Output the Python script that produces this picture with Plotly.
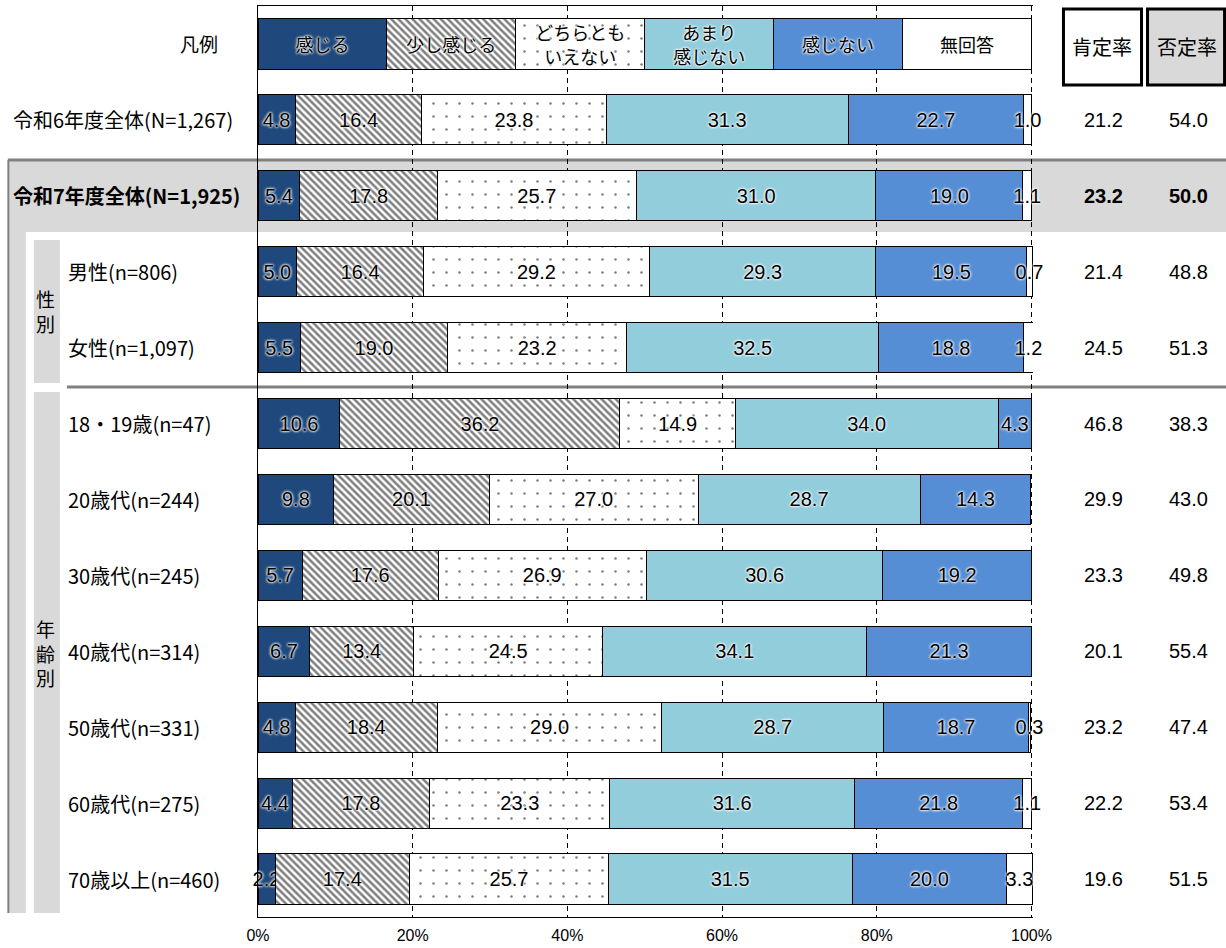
import plotly.graph_objects as go

# ---- data -------------------------------------------------------------
rows = [
    "令和6年度全体(N=1,267)",
    "令和7年度全体(N=1,925)",
    "男性(n=806)",
    "女性(n=1,097)",
    "18・19歳(n=47)",
    "20歳代(n=244)",
    "30歳代(n=245)",
    "40歳代(n=314)",
    "50歳代(n=331)",
    "60歳代(n=275)",
    "70歳以上(n=460)",
]
legend_row = "凡例"

series_names = ["感じる", "少し感じる", "どちらとも<br>いえない", "あまり<br>感じない", "感じない", "無回答"]

kanjiru = [4.8, 5.4, 5.0, 5.5, 10.6, 9.8, 5.7, 6.7, 4.8, 4.4, 2.2]
sukoshi = [16.4, 17.8, 16.4, 19.0, 36.2, 20.1, 17.6, 13.4, 18.4, 17.8, 17.4]
dochira = [23.8, 25.7, 29.2, 23.2, 14.9, 27.0, 26.9, 24.5, 29.0, 23.3, 25.7]
amari = [31.3, 31.0, 29.3, 32.5, 34.0, 28.7, 30.6, 34.1, 28.7, 31.6, 31.5]
kanjinai = [22.7, 19.0, 19.5, 18.8, 4.3, 14.3, 19.2, 21.3, 18.7, 21.8, 20.0]
mukaitou = [1.0, 1.1, 0.7, 1.2, None, None, None, None, 0.3, 1.1, 3.3]

kouteiritsu = [21.2, 23.2, 21.4, 24.5, 46.8, 29.9, 23.3, 20.1, 23.2, 22.2, 19.6]
hiteiritsu = [54.0, 50.0, 48.8, 51.3, 38.3, 43.0, 49.8, 55.4, 47.4, 53.4, 51.5]

legend_share = 100 / 6
x_ticks = [0, 20, 40, 60, 80, 100]
x_ticklabels = ["0%", "20%", "40%", "60%", "80%", "100%"]

# ---- styling ----------------------------------------------------------
colors = ["#1F497D", "#FFFFFF", "#FFFFFF", "#92CDDC", "#558ED5", "#FFFFFF"]
patterns = [
    None,
    dict(shape="\\", size=5, solidity=0.5, fgcolor="#000000", bgcolor="#FFFFFF"),
    dict(shape=".", size=13, solidity=0.03, fgcolor="#000000", bgcolor="#FFFFFF"),
    None, None, None,
]
NUM_FONT = "Liberation Sans, Arial, Noto Sans CJK JP, sans-serif"
JP_FONT = "Noto Sans CJK JP, sans-serif"
GLOW = "white 0px 0px 3px, white 0px 0px 3px, white 0px 0px 2px"

# rounded shares can add up to slightly over 100, so leave a sliver of room
X_MAX = 100.2

W, H = 1226, 948
ML, MT, MB = 258, 6, 31
SPAN100 = 773                      # pixels from 0% to 100%
PW = SPAN100 * X_MAX / 100
MR = W - ML - PW
PH = H - MT - MB


def px(x):
    return (x - ML) / PW


def py(y):
    return (H - MB - y) / PH


categories = [legend_row] + rows
all_series = [kanjiru, sukoshi, dochira, amari, kanjinai, mukaitou]

fig = go.Figure()
for name, vals, col, pat in zip(series_names, all_series, colors, patterns):
    xs = [legend_share] + vals
    txt = [name] + [("" if v is None else f"{v:.1f}") for v in vals]
    sizes = [18] + [20] * len(vals)
    fams = [JP_FONT] + [NUM_FONT] * len(vals)
    marker = dict(color=col, line=dict(color="#000000", width=1))
    if pat is not None:
        marker["pattern"] = pat
    fig.add_trace(go.Bar(
        y=categories, x=xs, orientation="h", name=name.replace("<br>", ""),
        marker=marker, width=0.66,
        text=txt, textposition="inside", insidetextanchor="middle",
        constraintext="none", textangle=0, cliponaxis=False,
        textfont=dict(color="#000000", size=sizes, family=fams, shadow=GLOW),
        hoverinfo="skip", showlegend=False,
    ))

shapes = []
grey = "#D9D9D9"
dark = "#808080"
# highlighted overall row band and group frames
shapes.append(dict(type="rect", xref="paper", yref="paper", x0=px(9), x1=px(1226),
                   y0=py(232), y1=py(160), fillcolor=grey, line_width=0, layer="below"))
shapes.append(dict(type="rect", xref="paper", yref="paper", x0=px(9), x1=px(26),
                   y0=py(913), y1=py(232), fillcolor=grey, line_width=0, layer="below"))
shapes.append(dict(type="rect", xref="paper", yref="paper", x0=px(34), x1=px(60),
                   y0=py(383), y1=py(240), fillcolor=grey, line_width=0, layer="below"))
shapes.append(dict(type="rect", xref="paper", yref="paper", x0=px(34), x1=px(60),
                   y0=py(913), y1=py(392), fillcolor=grey, line_width=0, layer="below"))
shapes.append(dict(type="line", xref="paper", yref="paper", x0=px(8), x1=px(1226),
                   y0=py(160), y1=py(160), line=dict(color=dark, width=3), layer="below"))
shapes.append(dict(type="line", xref="paper", yref="paper", x0=px(8.5), x1=px(8.5),
                   y0=py(913), y1=py(160), line=dict(color=dark, width=2), layer="below"))
shapes.append(dict(type="line", xref="paper", yref="paper", x0=px(67), x1=px(1226),
                   y0=py(387), y1=py(387), line=dict(color=dark, width=3), layer="below"))
# header boxes for the rate columns
shapes.append(dict(type="rect", xref="paper", yref="paper", x0=px(1063), x1=px(1141),
                   y0=py(85), y1=py(9), fillcolor="#FFFFFF", line=dict(color="#000000", width=3)))
shapes.append(dict(type="rect", xref="paper", yref="paper", x0=px(1147), x1=px(1224),
                   y0=py(85), y1=py(9), fillcolor=grey, line=dict(color="#000000", width=3)))

ann = []
LABEL_SIZE = 20


def text_ann(text, x, y, yref="paper", xanchor="center", size=LABEL_SIZE, family=JP_FONT):
    return dict(text=text, xref="paper", yref=yref, x=x, y=y, xanchor=xanchor,
                yanchor="middle", showarrow=False,
                font=dict(size=size, family=family, color="#000"))


ann.append(text_ann(legend_row, px(199), legend_row, yref="y", size=19))
for i, r in enumerate(rows):
    bold = (i == 1)
    xl = px(11) if i < 2 else px(66)
    label = f"<b>{r}</b>" if bold else r
    ann.append(text_ann(label, xl, r, yref="y", xanchor="left"))
    k = f"{kouteiritsu[i]:.1f}"
    h = f"{hiteiritsu[i]:.1f}"
    if bold:
        k, h = f"<b>{k}</b>", f"<b>{h}</b>"
    ann.append(text_ann(k, px(1103), r, yref="y", size=20, family=NUM_FONT))
    ann.append(text_ann(h, px(1188), r, yref="y", size=20, family=NUM_FONT))

ann.append(text_ann("肯定率", px(1102), py(47), size=20))
ann.append(text_ann("否定率", px(1186), py(47), size=20))
ann.append(text_ann("性<br>別", px(46), py(311), size=19))
ann.append(text_ann("年<br>齢<br>別", px(46), py(653), size=19))

fig.update_layout(
    width=W, height=H, autosize=False,
    margin=dict(l=ML, r=MR, t=MT, b=MB, pad=0),
    barmode="stack", bargap=0.34,
    plot_bgcolor="rgba(0,0,0,0)", paper_bgcolor="#FFFFFF",
    shapes=shapes, annotations=ann,
    xaxis=dict(range=[0, X_MAX], tickvals=x_ticks, ticktext=x_ticklabels,
               showgrid=True, gridcolor="#000000", gridwidth=1, griddash="5px,4px",
               showline=True, linecolor="#000000", linewidth=1, mirror=True,
               zeroline=False, ticks="", ticklabelstandoff=4, automargin=False,
               tickfont=dict(size=16, family=NUM_FONT, color="#000")),
    yaxis=dict(categoryorder="array", categoryarray=categories, autorange=False,
               range=[len(categories) - 0.5, -0.5], showticklabels=False,
               showgrid=False, zeroline=False, showline=True, linecolor="#000000",
               linewidth=1, ticks="", automargin=False),
)

fig.write_html("out.html")
